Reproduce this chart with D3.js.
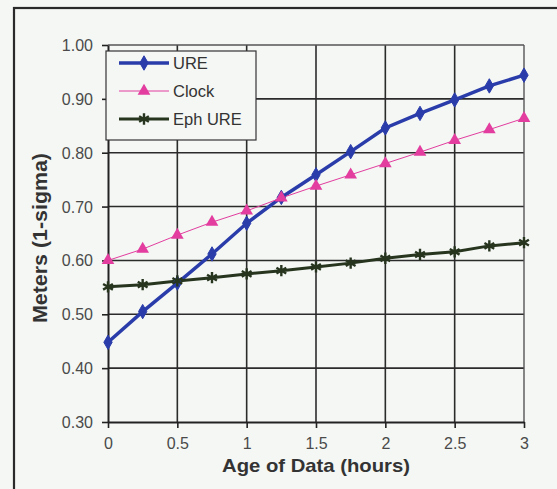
<!DOCTYPE html>
<html><head><meta charset="utf-8">
<script src="https://cdn.jsdelivr.net/npm/d3@7"></script>
<style>
html,body{margin:0;padding:0;background:#f4f7f4;}
svg{display:block;font-family:"Liberation Sans",Arial,sans-serif;}
</style></head>
<body><svg id="chart" width="557" height="489"></svg>
<script>
const hours = [0,0.25,0.5,0.75,1,1.25,1.5,1.75,2,2.25,2.5,2.75,3];
const ure   = [0.448,0.505,0.558,0.612,0.669,0.717,0.759,0.802,0.846,0.873,0.898,0.924,0.944];
const clock = [0.600,0.621,0.647,0.671,0.692,0.716,0.738,0.759,0.780,0.801,0.823,0.843,0.864];
const ephUre= [0.551,0.555,0.562,0.568,0.575,0.581,0.588,0.595,0.604,0.611,0.616,0.627,0.633];
const xTicks = [0,0.5,1,1.5,2,2.5,3];
const yTicks = [0.30,0.40,0.50,0.60,0.70,0.80,0.90,1.00];
const seriesNames = ["URE","Clock","Eph URE"];

const svg = d3.select("#chart");
svg.append("rect").attr("x",14).attr("y",8).attr("width",560).attr("height",500)
  .attr("fill","#f4f7f4").attr("stroke","#2a2a2a").attr("stroke-width",2.2);

const L=108,R=524,T=45,B=422;
const x = d3.scaleLinear().domain([0,3]).range([L,R]);
const y = d3.scaleLinear().domain([0.3,1.0]).range([B,T]);

const g = svg.append("g");
g.selectAll(".hg").data(yTicks.filter(v=>v>0.3 && v<1.0)).join("line")
  .attr("x1",L).attr("x2",R).attr("y1",d=>y(d)).attr("y2",d=>y(d))
  .attr("stroke","#2b2b2b").attr("stroke-width",1.6);
g.selectAll(".vg").data(xTicks.filter(v=>v>0 && v<3)).join("line")
  .attr("y1",T).attr("y2",B).attr("x1",d=>x(d)).attr("x2",d=>x(d))
  .attr("stroke","#2b2b2b").attr("stroke-width",1.6);
g.append("line").attr("x1",L).attr("x2",R).attr("y1",T).attr("y2",T).attr("stroke","#555").attr("stroke-width",1.4);
g.append("line").attr("x1",R).attr("x2",R).attr("y1",T).attr("y2",B).attr("stroke","#555").attr("stroke-width",1.4);

const yAxis = d3.axisLeft(y).tickValues(yTicks).tickFormat(d3.format(".2f")).tickSize(6).tickSizeOuter(0);
const xAxis = d3.axisBottom(x).tickValues(xTicks).tickFormat(d=>String(d)).tickSize(6).tickSizeOuter(0);
const ya = svg.append("g").attr("transform",`translate(${L},0)`).call(yAxis);
const xa = svg.append("g").attr("transform",`translate(0,${B})`).call(xAxis);
[ya,xa].forEach(a=>{
  a.select(".domain").attr("stroke","#222").attr("stroke-width",2);
  a.selectAll(".tick line").attr("stroke","#222").attr("stroke-width",1.6);
  a.selectAll(".tick text").attr("fill","#4a4a4a").attr("font-size",16)
    .attr("font-family","'Liberation Sans',Arial,sans-serif");
});
ya.selectAll(".tick text").attr("x",-15).attr("dy","0.34em");
xa.selectAll(".tick text").attr("y",16);

svg.append("text").attr("x",316).attr("y",472).attr("text-anchor","middle")
  .attr("font-size",19).attr("font-weight","bold").attr("fill","#333")
  .attr("textLength",188).attr("lengthAdjust","spacingAndGlyphs").text("Age of Data (hours)");
svg.append("text").attr("transform","translate(47,238) rotate(-90)").attr("text-anchor","middle")
  .attr("font-size",20).attr("font-weight","bold").attr("fill","#333")
  .attr("textLength",170).attr("lengthAdjust","spacingAndGlyphs").text("Meters (1-sigma)");

const colors = ["#2a3caa","#e23d9f","#27351f"];
const widths = [3.5,1,3];
const datasets = [ure,clock,ephUre];
const line = d3.line().x((d,i)=>x(hours[i])).y(d=>y(d));
const sym = [d3.symbolDiamond, d3.symbolTriangle, d3.symbolAsterisk];
const symSize = [60,70,90];

function marker(sel, k){
  const s = d3.symbol().type(sym[k]).size(symSize[k]);
  sel.attr("d",s).attr("fill",colors[k]);
  if(k===2){ sel.attr("stroke",colors[k]).attr("stroke-width",2.4).attr("fill","none"); }
  if(k===0){ sel.attr("stroke",colors[k]).attr("stroke-width",1); }
}

datasets.forEach((ds,k)=>{
  svg.append("path").datum(ds).attr("d",line).attr("fill","none")
    .attr("stroke",colors[k]).attr("stroke-width",widths[k]);
});
datasets.forEach((ds,k)=>{
  svg.append("g").selectAll("path").data(ds).join("path")
    .attr("transform",(d,i)=>`translate(${x(hours[i])},${y(d)})`)
    .call(marker,k);
});

const lg = svg.append("g");
lg.append("rect").attr("x",106).attr("y",51).attr("width",150).attr("height",89)
  .attr("fill","#f4f7f4").attr("stroke","#333").attr("stroke-width",1.2);
seriesNames.forEach((n,k)=>{
  const yy = 63 + k*28;
  lg.append("line").attr("x1",119).attr("x2",169).attr("y1",yy).attr("y2",yy)
    .attr("stroke",colors[k]).attr("stroke-width",widths[k]);
  lg.append("path").attr("transform",`translate(144,${yy})`).call(marker,k);
  lg.append("text").attr("x",173).attr("y",yy).attr("dy","0.35em")
    .attr("font-size",16.5).attr("fill","#333").text(n);
});
</script></body></html>
